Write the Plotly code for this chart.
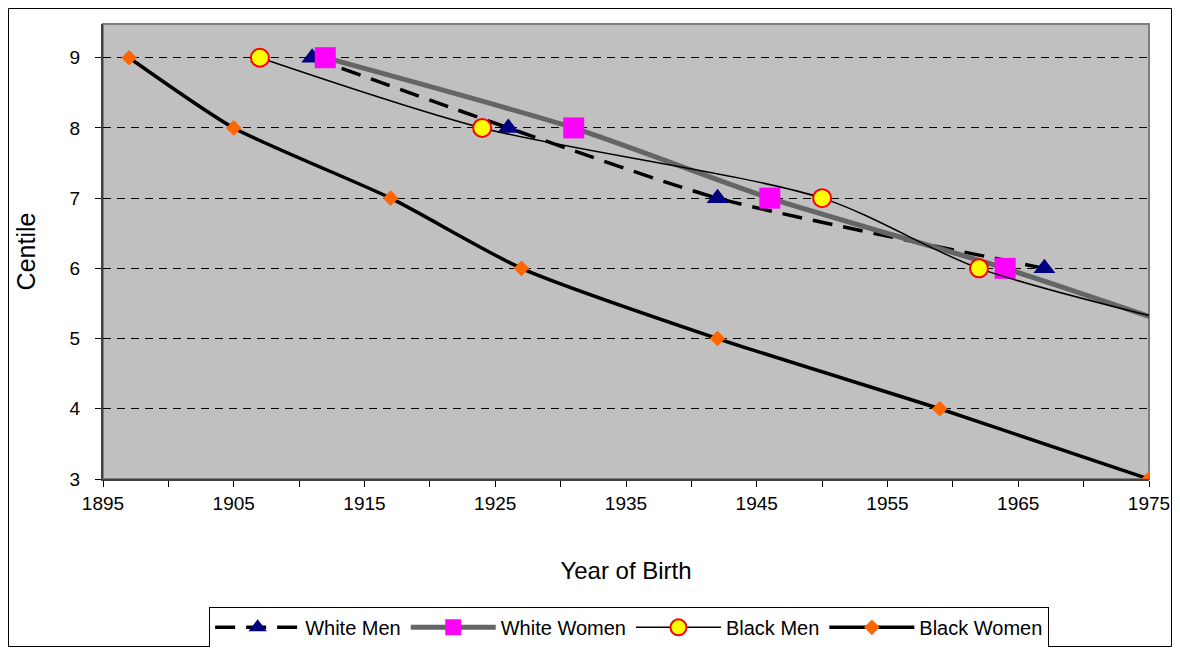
import plotly.graph_objects as go

# ---- data ----
wm_years = [1911, 1926, 1942, 1967]
wm_centile = [9, 8, 7, 6]

ww_years = [1912, 1931, 1946, 1964, 1980]
ww_centile = [9, 8, 7, 6, 5.0]

bm_years = [1907, 1924, 1950, 1962, 1980]
bm_centile = [9, 8, 7, 6, 5.1]

bw_years = [1897, 1905, 1917, 1927, 1942, 1959, 1975]
bw_centile = [9, 8, 7, 6, 5, 4, 3]

x_tickvals = list(range(1895, 1976, 5))
x_ticktext = [str(v) if (v - 1895) % 10 == 0 else "" for v in x_tickvals]
y_tickvals = [3, 4, 5, 6, 7, 8, 9]

FONT = "Arial, 'Liberation Sans', sans-serif"

# figure geometry (page has an 8px body margin)
W, H = 1164, 639
L, T, R, B = 95, 16, 23, 168
PW, PH = W - L - R, H - T - B

fig = go.Figure()

fig.add_trace(go.Scatter(
    x=wm_years, y=wm_centile, name="White Men", mode="lines+markers",
    line=dict(color="black", width=3.5, dash="20px,11px", shape="spline", smoothing=0.6),
    marker=dict(symbol="triangle-up", size=19, color="#000080",
                line=dict(width=0)),
))
fig.add_trace(go.Scatter(
    x=ww_years, y=ww_centile, name="White Women", mode="lines+markers",
    line=dict(color="#656565", width=5, shape="spline", smoothing=0.6),
    marker=dict(symbol="square", size=21, color="#FF00FF", line=dict(width=0)),
))
fig.add_trace(go.Scatter(
    x=bm_years, y=bm_centile, name="Black Men", mode="lines+markers",
    line=dict(color="black", width=1.5, shape="spline", smoothing=0.8),
    marker=dict(symbol="circle", size=18, color="#FFFF00",
                line=dict(color="#FF0000", width=2)),
))
fig.add_trace(go.Scatter(
    x=bw_years, y=bw_centile, name="Black Women", mode="lines+markers",
    line=dict(color="black", width=3.5, shape="spline", smoothing=0.6),
    marker=dict(symbol="diamond", size=12, color="#FF6600", line=dict(width=0)),
))

# outer chart border
fig.add_shape(type="rect", xref="paper", yref="paper",
              x0=(0.5 - L) / PW, x1=(W - 0.5 - L) / PW,
              y0=(T + PH - (H - 0.5)) / PH, y1=(T + PH - 0.5) / PH,
              line=dict(color="black", width=1), fillcolor="rgba(0,0,0,0)",
              layer="below")
# plot area border
fig.add_shape(type="rect", xref="paper", yref="paper",
              x0=0, x1=1, y0=0, y1=1,
              line=dict(color="#808080", width=2), fillcolor="rgba(0,0,0,0)",
              layer="below")

fig.update_layout(
    width=W, height=H, autosize=False,
    margin=dict(l=L, r=R, t=T, b=B, autoexpand=False),
    paper_bgcolor="white", plot_bgcolor="#C0C0C0",
    font=dict(family=FONT, size=19, color="black"),
    showlegend=True,
    legend=dict(orientation="h", x=0.503, xanchor="center", y=-0.281, yanchor="top",
                bgcolor="white", bordercolor="black", borderwidth=1,
                font=dict(family=FONT, size=20), itemwidth=85,
                tracegroupgap=0),
)
fig.update_xaxes(
    range=[1895, 1975], tickmode="array", tickvals=x_tickvals, ticktext=x_ticktext,
    ticks="outside", ticklen=6, tickcolor="black", tickwidth=1, automargin=False,
    showline=True, linecolor="#404040", linewidth=2, showgrid=False, zeroline=False,
    tickfont=dict(family=FONT, size=19),
    title=dict(text="Year of Birth", font=dict(family=FONT, size=24), standoff=49),
)
fig.update_yaxes(
    range=[3, 9.48], tickmode="array", tickvals=y_tickvals,
    ticks="outside", ticklen=6, tickcolor="black", tickwidth=1, automargin=False,
    ticklabelstandoff=11,
    showline=True, linecolor="#404040", linewidth=2,
    showgrid=True, gridcolor="black", gridwidth=1, griddash="8px,6px", zeroline=False,
    tickfont=dict(family=FONT, size=19),
    title=dict(text="Centile", font=dict(family=FONT, size=25), standoff=27),
)

fig.write_html("out.html")
